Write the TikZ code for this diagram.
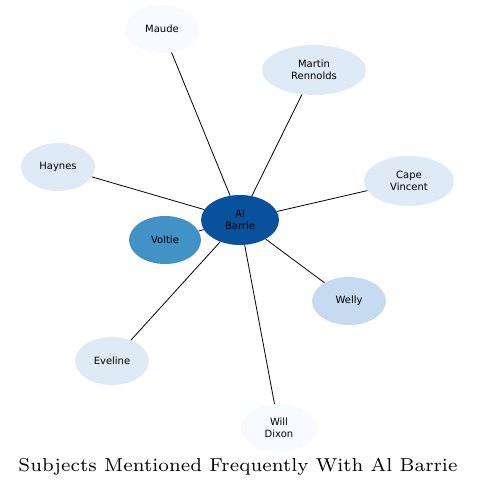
\documentclass[tikz,border=0pt]{standalone}
\usepackage{fontspec}
\newfontfamily\nodefont{DejaVu Sans}
\newfontfamily\titlefont{lmroman7-regular.otf}
\usepackage{tikz}
\usetikzlibrary{shapes.geometric}

\definecolor{c0}{HTML}{F7FBFF}
\definecolor{c1}{HTML}{DEEBF7}
\definecolor{c2}{HTML}{C6DBEF}
\definecolor{c3}{HTML}{4292C6}
\definecolor{c4}{HTML}{08519C}

\begin{document}
\begin{tikzpicture}[x=1pt, y=-1pt,
  subj/.style={ellipse, draw=none, align=center, inner sep=0pt,
    font=\nodefont\fontsize{10}{12}\selectfont, minimum width=74pt, minimum height=48pt},
  link/.style={line width=0.8pt}]
\useasboundingbox (0,0) rectangle (476,489);
\node[subj, fill=c4, minimum width=78pt, minimum height=50pt] (al) at (240,220) {Al\\Barrie};
\node[subj, fill=c3, minimum width=72pt] (voltie) at (165,240) {Voltie};
\node[subj, fill=c0] (maude) at (162,29) {Maude};
\node[subj, fill=c1, minimum width=104pt, minimum height=50pt] (martin) at (314,70) {Martin\\Rennolds};
\node[subj, fill=c1] (haynes) at (58,167) {Haynes};
\node[subj, fill=c1, minimum width=90pt, minimum height=50pt] (cape) at (409,181) {Cape\\Vincent};
\node[subj, fill=c2] (welly) at (349,301) {Welly};
\node[subj, fill=c1] (eveline) at (112,361) {Eveline};
\node[subj, fill=c0, minimum width=76pt] (will) at (279,428) {Will\\Dixon};
% links
\draw[link] (al) -- (maude);
\draw[link] (al) -- (martin);
\draw[link] (al) -- (haynes);
\draw[link] (al) -- (cape);
\draw[link] (al) -- (voltie);
\draw[link] (al) -- (welly);
\draw[link] (al) -- (eveline);
\draw[link] (al) -- (will);
\node[font=\titlefont\fontsize{18.7}{21}\selectfont] (title) at (238,467) {Subjects Mentioned Frequently With Al Barrie};
\end{tikzpicture}
\end{document}
